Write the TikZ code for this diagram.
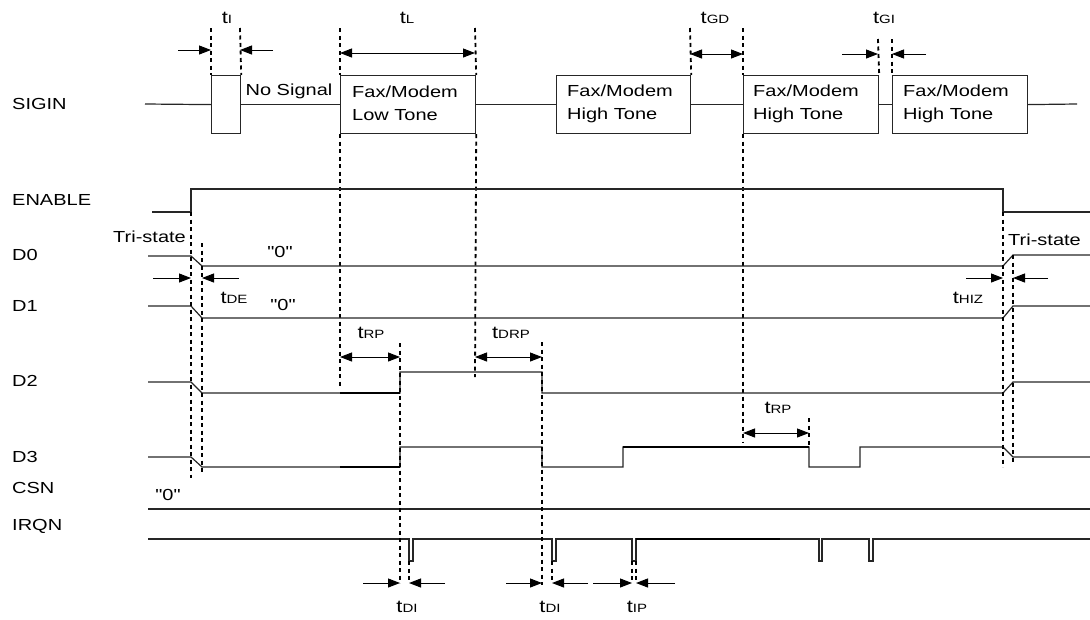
\documentclass[tikz,border=0pt]{standalone}
\usepackage{fontspec}
\setmainfont{Liberation Sans}[FakeStretch=1.25, Ligatures=TeXOff]
\usetikzlibrary{arrows.meta}
\begin{document}
\begin{tikzpicture}[x=1pt,y=-1pt,
  sig/.style={line width=1.2pt, draw=black!85},
  thk/.style={line width=1.8pt, draw=black},
  dotv/.style={line width=1.8pt, dash pattern=on 4pt off 3.5pt},
  arr/.style={line width=1pt, -{Triangle[length=12pt,width=9pt]}},
  darr/.style={line width=1pt, {Triangle[length=12pt,width=9pt]}-{Triangle[length=12pt,width=9pt]}},
  lab/.style={font=\fontsize{16}{23}\selectfont, inner sep=0pt, align=left},
  tlab/.style={font=\fontsize{17.5}{19}\selectfont, inner sep=0pt},
  tonebox/.style={draw=black!85, line width=1.2pt, anchor=north west, minimum height=58pt, inner sep=0pt}
]
\newcommand{\tsub}[1]{t{\fontsize{12}{12}\selectfont #1}}
\useasboundingbox (0,0) rectangle (1090,619);

% ---------- left labels ----------
\node[lab, anchor=west] (lSIG) at (12,104) {SIGIN};
\node[lab, anchor=west] (lEN) at (12,200) {ENABLE};
\node[lab, anchor=west] (lD0) at (12,255) {D0};
\node[lab, anchor=west] (lD1) at (12,306) {D1};
\node[lab, anchor=west] (lD2) at (12,381) {D2};
\node[lab, anchor=west] (lD3) at (12,457) {D3};
\node[lab, anchor=west] (lCSN) at (12,488) {CSN};
\node[lab, anchor=west] (lIRQ) at (12,526) {IRQN};

% ---------- SIGIN boxes ----------
\node[tonebox, minimum width=29pt] (b0) at (211,75) {};
\node[tonebox, minimum width=135pt] (b1) at (340,75) {};
\node[tonebox, minimum width=134pt] (b2) at (556,75) {};
\node[tonebox, minimum width=135pt] (b3) at (743,75) {};
\node[tonebox, minimum width=135pt] (b4) at (892,75) {};
\node[lab, anchor=west] (t1) at ([xshift=12pt,yshift=1pt]b1.west) {Fax/Modem\\Low Tone};
\node[lab, anchor=west] (t2) at ([xshift=11pt,yshift=1pt]b2.west) {Fax/Modem\\High Tone};
\node[lab, anchor=west] (t3) at ([xshift=10pt,yshift=1pt]b3.west) {Fax/Modem\\High Tone};
\node[lab, anchor=west] (t4) at ([xshift=11pt,yshift=1pt]b4.west) {Fax/Modem\\High Tone};
\node[lab] (nosig) at (289,91) {No Signal};

\coordinate (s0) at (145,104);
\coordinate (s9) at (1077,104);
\draw[sig] (s0) -- (b0.west);
\draw[sig] (b0.east) -- (b1.west);
\draw[sig] (b1.east) -- (b2.west);
\draw[sig] (b2.east) -- (b3.west);
\draw[sig] (b3.east) -- (b4.west);
\draw[sig] (b4.east) -- (s9);

% ---------- top dotted markers ----------
\draw[dotv] (211,28) -- (b0.north west);
\draw[dotv] (240,28) -- (b0.north east);
\draw[dotv] (340,28) -- (b1.north west);
\draw[dotv] (475,28) -- (b1.north east);
\draw[dotv] (690,28) -- (b2.north east);
\draw[dotv] (743,28) -- (b3.north west);
\draw[dotv] (878,39) -- (b3.north east);
\draw[dotv] (892,39) -- (b4.north west);
\draw[dotv] (b1.south west) -- (340,387);
\draw[dotv] (b1.south east) -- (475,377);
\draw[dotv] (b3.south west) -- (743,442);

% ---------- top timing arrows ----------
\coordinate (tIa) at (178,50); \coordinate (tIb) at (211,50);
\coordinate (tIc) at (273,50); \coordinate (tId) at (240,50);
\draw[arr] (tIa) -- (tIb);
\draw[arr] (tIc) -- (tId);
\node[tlab] (ltI) at (227,18) {\tsub{I}};
\coordinate (tLa) at (340,53); \coordinate (tLb) at (475,53);
\draw[darr] (tLa) -- (tLb);
\node[tlab] (ltL) at (407,18) {\tsub{L}};
\coordinate (tGDa) at (690,54); \coordinate (tGDb) at (743,54);
\draw[darr] (tGDa) -- (tGDb);
\node[tlab] (ltGD) at (715,18) {\tsub{GD}};
\coordinate (tGIa) at (842,54); \coordinate (tGIb) at (878,54);
\coordinate (tGIc) at (926,54); \coordinate (tGId) at (892,54);
\draw[arr] (tGIa) -- (tGIb);
\draw[arr] (tGIc) -- (tGId);
\node[tlab] (ltGI) at (884,18) {\tsub{GI}};

% ---------- waveforms ----------
\draw[sig] (152,212) -- (191,212) -- (191,189) -- (1003,189) -- (1003,212) -- (1090,212);
\draw[sig] (148,256) -- (191,256) -- (202,266) -- (1003,266) -- (1013,255) -- (1090,255);
\draw[sig] (148,306) -- (191,306) -- (202,318) -- (1003,318) -- (1013,306) -- (1090,306);
\draw[sig] (148,382) -- (191,382) -- (202,393) -- (400,393) -- (400,372) -- (542,372) -- (542,393) -- (1003,393) -- (1013,382) -- (1090,382);
\draw[sig] (148,457) -- (191,457) -- (202,467) -- (400,467) -- (400,447) -- (542,447) -- (542,467) -- (623,467) -- (623,447) -- (809,447) -- (809,467) -- (860,467) -- (860,447) -- (1003,447) -- (1013,457) -- (1090,457);
\draw[sig] (148,509) -- (1090,509);
\draw[sig] (148,539) -- (409,539) -- (409,561) -- (413,561) -- (413,539)
  -- (552,539) -- (552,561) -- (556,561) -- (556,539)
  -- (632,539) -- (632,561) -- (636,561) -- (636,539)
  -- (819,539) -- (819,561) -- (822,561) -- (822,539)
  -- (869,539) -- (869,561) -- (873,561) -- (873,539) -- (1090,539);
% darker overdrawn stretches
\draw[thk] (340,393) -- (400,393);
\draw[thk] (340,467) -- (400,467);
\draw[thk] (623,447) -- (809,447);
\draw[thk] (636,539) -- (780,539);

% ---------- waveform texts ----------
\node[lab, anchor=east] (tri1) at (186,237) {Tri-state};
\node[lab, anchor=west] (tri2) at (1008,240) {Tri-state};
\node[lab] (z0) at (280,252) {"0"};
\node[lab] (z1) at (283,305) {"0"};
\node[lab] (z2) at (168,495) {"0"};

% ---------- lower dotted markers ----------
\draw[dotv] (191,212) -- (191,478);
\draw[dotv] (202,243) -- (202,472);
\draw[dotv] (1003,212) -- (1003,467);
\draw[dotv] (1013,255) -- (1013,462);
\draw[dotv] (400,343) -- (400,583);
\draw[dotv] (542,342) -- (542,585);
\draw[dotv] (809,418) -- (809,447);
\draw[dotv] (409,561) -- (409,583);
\draw[dotv] (552,561) -- (552,583);
\draw[dotv] (632,561) -- (632,583);
\draw[dotv] (636,561) -- (636,583);

% ---------- lower timing arrows ----------
\coordinate (dEa) at (153,278); \coordinate (dEb) at (191,278);
\coordinate (dEc) at (239,278); \coordinate (dEd) at (202,278);
\draw[arr] (dEa) -- (dEb);
\draw[arr] (dEc) -- (dEd);
\node[tlab] (ltDE) at (234,298) {\tsub{DE}};
\coordinate (hZa) at (966,278); \coordinate (hZb) at (1003,278);
\coordinate (hZc) at (1048,278); \coordinate (hZd) at (1013,278);
\draw[arr] (hZa) -- (hZb);
\draw[arr] (hZc) -- (hZd);
\node[tlab] (ltHIZ) at (968,298) {\tsub{HIZ}};

\coordinate (rp1a) at (340,357); \coordinate (rp1b) at (400,357);
\draw[darr] (rp1a) -- (rp1b);
\node[tlab] (ltRP1) at (371,333) {\tsub{RP}};
\coordinate (drpa) at (475,357); \coordinate (drpb) at (542,357);
\draw[darr] (drpa) -- (drpb);
\node[tlab] (ltDRP) at (511,333) {\tsub{DRP}};
\coordinate (rp2a) at (743,433); \coordinate (rp2b) at (809,433);
\draw[darr] (rp2a) -- (rp2b);
\node[tlab] (ltRP2) at (778,408) {\tsub{RP}};

\coordinate (di1a) at (363,583); \coordinate (di1b) at (400,583);
\coordinate (di1c) at (445,583); \coordinate (di1d) at (409,583);
\draw[arr] (di1a) -- (di1b);
\draw[arr] (di1c) -- (di1d);
\node[tlab] (ltDI1) at (407,607) {\tsub{DI}};
\coordinate (di2a) at (506,583); \coordinate (di2b) at (542,583);
\coordinate (di2c) at (588,583); \coordinate (di2d) at (552,583);
\draw[arr] (di2a) -- (di2b);
\draw[arr] (di2c) -- (di2d);
\node[tlab] (ltDI2) at (550,607) {\tsub{DI}};
\coordinate (ipa) at (593,583); \coordinate (ipb) at (632,583);
\coordinate (ipc) at (675,583); \coordinate (ipd) at (636,583);
\draw[arr] (ipa) -- (ipb);
\draw[arr] (ipc) -- (ipd);
\node[tlab] (ltIP) at (637,607) {\tsub{IP}};
\end{tikzpicture}
\end{document}
